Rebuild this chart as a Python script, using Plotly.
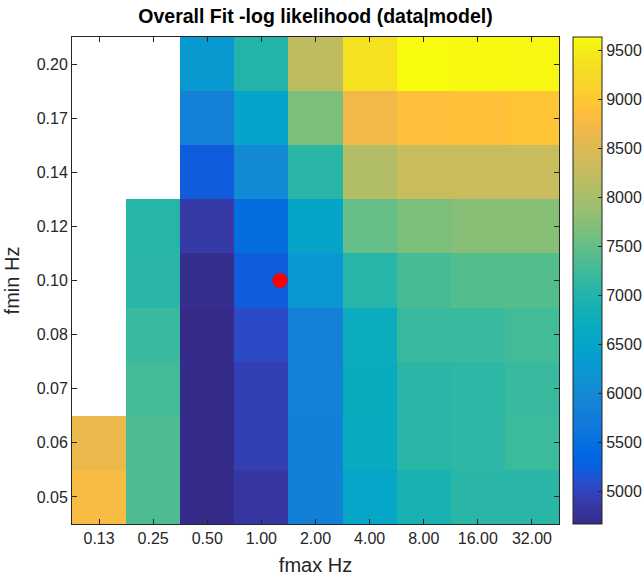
import math
import plotly.graph_objects as go

# ---- data ----
fmax_labels = ["0.13", "0.25", "0.50", "1.00", "2.00", "4.00", "8.00", "16.00", "32.00"]
fmin_labels = ["0.05", "0.06", "0.07", "0.08", "0.10", "0.12", "0.14", "0.17", "0.20"]

# -log likelihood, rows = fmin (bottom to top), cols = fmax (left to right); None = not fitted
row_005 = [8770, 7350, 4680, 4830, 5820, 6530, 6910, 7070, 7070]
row_006 = [8620, 7350, 4690, 4950, 5820, 6690, 7080, 7110, 7220]
row_007 = [None, 7270, 4680, 4950, 5850, 6700, 7080, 7110, 7200]
row_008 = [None, 7200, 4670, 5060, 5860, 6720, 7200, 7200, 7270]
row_010 = [None, 7080, 4720, 5220, 6250, 7040, 7310, 7400, 7400]
row_012 = [None, 7050, 4870, 5460, 6520, 7510, 7660, 7750, 7750]
row_014 = [None, None, 5220, 6010, 7080, 8100, 8300, 8300, 8300]
row_017 = [None, None, 5860, 6480, 7660, 8700, 8890, 8900, 8950]
row_020 = [None, None, 6260, 7010, 8200, 9370, 9640, 9620, 9600]

best_fmax = 1.27   # Hz
best_fmin = 0.10   # Hz

z = [row_005, row_006, row_007, row_008, row_010, row_012, row_014, row_017, row_020]

# parula colormap (MATLAB)
parula = [
[0.2081, 0.1663, 0.5292],[0.2116, 0.1898, 0.5777],[0.2123, 0.2138, 0.6270],[0.2081, 0.2386, 0.6771],
[0.1959, 0.2645, 0.7279],[0.1707, 0.2919, 0.7792],[0.1253, 0.3242, 0.8303],[0.0591, 0.3598, 0.8683],
[0.0117, 0.3875, 0.8820],[0.0060, 0.4086, 0.8828],[0.0165, 0.4266, 0.8786],[0.0329, 0.4430, 0.8720],
[0.0498, 0.4586, 0.8641],[0.0629, 0.4737, 0.8554],[0.0723, 0.4887, 0.8467],[0.0779, 0.5040, 0.8384],
[0.0793, 0.5200, 0.8312],[0.0749, 0.5375, 0.8263],[0.0641, 0.5570, 0.8240],[0.0488, 0.5772, 0.8228],
[0.0343, 0.5966, 0.8199],[0.0265, 0.6137, 0.8135],[0.0239, 0.6287, 0.8038],[0.0231, 0.6418, 0.7913],
[0.0228, 0.6535, 0.7768],[0.0267, 0.6642, 0.7607],[0.0384, 0.6743, 0.7436],[0.0590, 0.6838, 0.7254],
[0.0843, 0.6928, 0.7062],[0.1133, 0.7015, 0.6859],[0.1453, 0.7098, 0.6646],[0.1801, 0.7177, 0.6424],
[0.2178, 0.7250, 0.6193],[0.2586, 0.7317, 0.5954],[0.3022, 0.7376, 0.5712],[0.3482, 0.7424, 0.5473],
[0.3953, 0.7459, 0.5244],[0.4420, 0.7481, 0.5033],[0.4871, 0.7491, 0.4840],[0.5300, 0.7491, 0.4661],
[0.5709, 0.7485, 0.4494],[0.6099, 0.7473, 0.4337],[0.6473, 0.7456, 0.4188],[0.6834, 0.7435, 0.4044],
[0.7184, 0.7411, 0.3905],[0.7525, 0.7384, 0.3768],[0.7858, 0.7356, 0.3633],[0.8185, 0.7327, 0.3498],
[0.8507, 0.7299, 0.3360],[0.8824, 0.7274, 0.3217],[0.9139, 0.7258, 0.3063],[0.9450, 0.7261, 0.2886],
[0.9739, 0.7314, 0.2666],[0.9938, 0.7455, 0.2403],[0.9990, 0.7653, 0.2164],[0.9955, 0.7861, 0.1967],
[0.9880, 0.8066, 0.1794],[0.9789, 0.8271, 0.1633],[0.9697, 0.8481, 0.1475],[0.9626, 0.8705, 0.1309],
[0.9589, 0.8949, 0.1132],[0.9598, 0.9218, 0.0948],[0.9661, 0.9514, 0.0755],[0.9763, 0.9831, 0.0538]]
n = len(parula)
colorscale = [[i / (n - 1), "rgb(%d,%d,%d)" % tuple(round(c * 255) for c in col)] for i, col in enumerate(parula)]

xs = list(range(len(fmax_labels)))
ys = list(range(len(fmin_labels)))

# marker position in index space (log2 spacing: fmax doubles per column, fmin x2^(1/4) per row)
dot_x = math.log2(best_fmax / 0.125)
dot_y = 4 * math.log2(best_fmin / 0.05)

font = "Liberation Sans, Arial, Helvetica, sans-serif"
ink = "#262626"

fig = go.Figure()
fig.add_trace(go.Heatmap(
    z=z, x=xs, y=ys, colorscale=colorscale, hoverongaps=False,
    colorbar=dict(
        x=1.0287, xanchor="left", xpad=0, y=0.5, yanchor="middle", len=1.0, lenmode="fraction",
        ypad=0, thickness=29, thicknessmode="pixels",
        outlinecolor=ink, outlinewidth=1,
        ticks="inside", ticklen=4, tickcolor=ink,
        tick0=5000, dtick=500,
        tickfont=dict(family=font, size=16, color=ink),
    ),
))
fig.add_trace(go.Scatter(
    x=[dot_x], y=[dot_y], mode="markers",
    marker=dict(color="#ff0000", size=15, line=dict(width=0)),
    showlegend=False, hoverinfo="skip",
))

fig.update_layout(
    width=642, height=576,
    margin=dict(l=72, r=83, t=37, b=52, autoexpand=False),
    paper_bgcolor="white", plot_bgcolor="white",
    title=dict(text="<b>Overall Fit -log likelihood (data|model)</b>",
               x=(72 + 559) / 2 / 642, xanchor="center", y=1 - 16 / 576, yanchor="middle",
               font=dict(family=font, size=19.5, color="black")),
    showlegend=False,
)
fig.update_xaxes(
    range=[-0.5, 8.5], tickmode="array", tickvals=xs, ticktext=fmax_labels,
    showgrid=False, zeroline=False, showline=True, linecolor=ink, linewidth=1, mirror="ticks",
    ticks="inside", ticklen=5, tickcolor=ink,
    tickfont=dict(family=font, size=16, color=ink),
    title=dict(text="fmax Hz", font=dict(family=font, size=20, color=ink), standoff=11),
)
fig.update_yaxes(
    range=[-0.5, 8.5], tickmode="array", tickvals=ys, ticktext=fmin_labels,
    showgrid=False, zeroline=False, showline=True, linecolor=ink, linewidth=1, mirror="ticks",
    ticks="inside", ticklen=5, tickcolor=ink,
    tickfont=dict(family=font, size=16, color=ink),
    title=dict(text="fmin Hz", font=dict(family=font, size=20, color=ink), standoff=11),
)

fig.write_html("out.html")
